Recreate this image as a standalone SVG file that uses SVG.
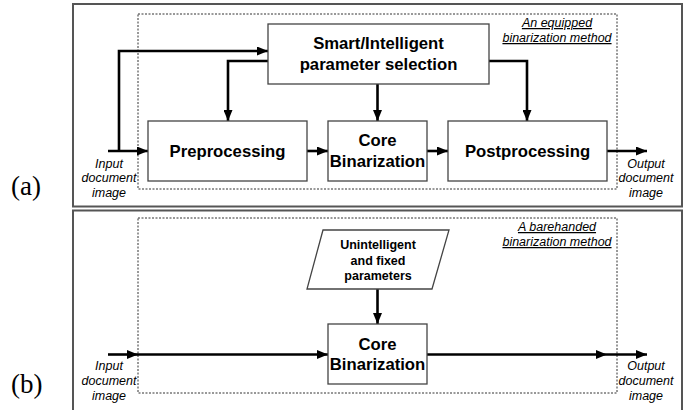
<svg xmlns="http://www.w3.org/2000/svg" width="693" height="410" viewBox="0 0 693 410">
  <style>
    .frame { fill: none; stroke: #555; stroke-width: 2; }
    .scope { fill: none; stroke: #333; stroke-width: 1; stroke-dasharray: 2 1.5; }
    .box { fill: #fff; stroke: #444; stroke-width: 1.3; }
    .wire { fill: none; stroke: #000; stroke-width: 2.6; marker-end: url(#head); }
    .title { font-family: "Liberation Sans", Arial, sans-serif; font-weight: bold; font-size: 16.7px; text-anchor: middle; fill: #000; }
    .small { font-family: "Liberation Sans", Arial, sans-serif; font-weight: bold; font-size: 12.5px; text-anchor: middle; fill: #000; }
    .io { font-family: "Liberation Sans", Arial, sans-serif; font-style: italic; font-size: 12.5px; text-anchor: middle; fill: #000; }
    .note { font-family: "Liberation Sans", Arial, sans-serif; font-style: italic; font-size: 12.5px; text-anchor: middle; fill: #000; text-decoration: underline; }
    .tag { font-family: "Liberation Serif", "Times New Roman", serif; font-size: 27px; fill: #000; }
  </style>
  <defs>
    <marker id="head" markerUnits="userSpaceOnUse" markerWidth="11" markerHeight="9" refX="11" refY="4.5" orient="auto">
      <path d="M0,0 L11,4.5 L0,9 z" fill="#000"/>
    </marker>
  </defs>
  <rect width="693" height="410" fill="#fff"/>

  <!-- panel frames -->
  <g id="panels">
    <rect class="frame" x="73" y="4" width="609" height="202.5"/>
    <path class="frame" d="M73,412 V210.5 H682 V412"/>
    <rect class="scope" x="138" y="14" width="479" height="175"/>
    <rect class="scope" x="138" y="218" width="479" height="175"/>
  </g>

  <!-- connectors -->
  <g id="connectors">
    <!-- panel (a) -->
    <line class="wire" x1="108" y1="151" x2="148" y2="151"/>
    <polyline class="wire" points="119,151 119,51 268,51"/>
    <polyline class="wire" points="268,61 228,61 228,121"/>
    <line class="wire" x1="377.5" y1="84" x2="377.5" y2="121"/>
    <polyline class="wire" points="489,61 527,61 527,121"/>
    <line class="wire" x1="307" y1="151" x2="328" y2="151"/>
    <line class="wire" x1="427" y1="151" x2="448" y2="151"/>
    <line class="wire" x1="607" y1="151" x2="647" y2="151"/>
    <!-- panel (b) -->
    <line class="wire" x1="377.5" y1="289" x2="377.5" y2="324"/>
    <line class="wire" x1="108" y1="354.5" x2="138" y2="354.5"/>
    <line class="wire" x1="138" y1="354.5" x2="328" y2="354.5"/>
    <line class="wire" x1="427" y1="354.5" x2="607" y2="354.5"/>
    <line class="wire" x1="607" y1="354.5" x2="647" y2="354.5"/>
  </g>

  <!-- panel (a) nodes -->
  <g id="param-select">
    <rect class="box" x="268" y="24" width="221" height="60"/>
    <text class="title" x="378.5" y="48.5">Smart/Intelligent</text>
    <text class="title" x="378.5" y="70">parameter selection</text>
  </g>
  <g id="preprocessing">
    <rect class="box" x="148" y="121" width="159" height="60"/>
    <text class="title" x="227.5" y="157">Preprocessing</text>
  </g>
  <g id="core-a">
    <rect class="box" x="328" y="121" width="99" height="60"/>
    <text class="title" x="377.5" y="146">Core</text>
    <text class="title" x="377.5" y="167">Binarization</text>
  </g>
  <g id="postprocessing">
    <rect class="box" x="448" y="121" width="159" height="60"/>
    <text class="title" x="527.5" y="157">Postprocessing</text>
  </g>
  <g id="labels-a">
    <text class="io" x="109" y="167.5">Input</text>
    <text class="io" x="109" y="182">document</text>
    <text class="io" x="109" y="196.5">image</text>
    <text class="io" x="646" y="167.5">Output</text>
    <text class="io" x="646" y="182">document</text>
    <text class="io" x="646" y="196.5">image</text>
    <text class="note" x="557" y="27">An equipped</text>
    <text class="note" x="557" y="42">binarization method</text>
    <text class="tag" x="11" y="195">(a)</text>
  </g>

  <!-- panel (b) nodes -->
  <g id="fixed-params">
    <polygon class="box" points="323,230 449,230 432,289 307,289"/>
    <text class="small" x="378" y="248.5">Unintelligent</text>
    <text class="small" x="378" y="264.5">and fixed</text>
    <text class="small" x="378" y="279.5">parameters</text>
  </g>
  <g id="core-b">
    <rect class="box" x="328" y="324" width="99" height="60"/>
    <text class="title" x="377.5" y="349.5">Core</text>
    <text class="title" x="377.5" y="370">Binarization</text>
  </g>
  <g id="labels-b">
    <text class="io" x="109" y="370">Input</text>
    <text class="io" x="109" y="385">document</text>
    <text class="io" x="109" y="400">image</text>
    <text class="io" x="646" y="370">Output</text>
    <text class="io" x="646" y="385">document</text>
    <text class="io" x="646" y="400">image</text>
    <text class="note" x="557" y="231">A barehanded</text>
    <text class="note" x="557" y="246">binarization method</text>
    <text class="tag" x="11" y="393">(b)</text>
  </g>
</svg>
